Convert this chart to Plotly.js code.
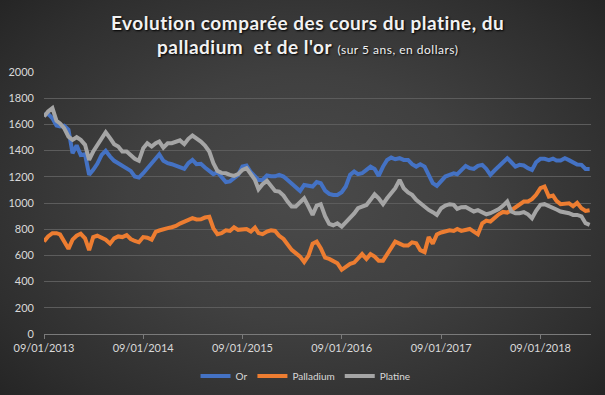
<!DOCTYPE html>
<html>
<head>
<meta charset="utf-8">
<script src="https://cdn.plot.ly/plotly-3.0.1.min.js"></script>
<style>
  html, body { margin: 0; padding: 0; }
  #chart {
    width: 605px; height: 395px;
    background: radial-gradient(ellipse 72% 78% at 50% 50%, #4a4a4a 0%, #404040 40%, #2e2e2e 78%, #222222 100%);
  }
  .annotation-text { letter-spacing: 0.5px; }
</style>
</head>
<body>
<div id="chart"></div>
<script>
// Dates (semi-monthly samples)
const dates = [
"2013-01-09","2013-01-24","2013-02-09","2013-02-24","2013-03-09","2013-03-24","2013-04-09","2013-04-24","2013-05-09","2013-05-24","2013-06-09","2013-06-24",
"2013-07-09","2013-07-24","2013-08-09","2013-08-24","2013-09-09","2013-09-24","2013-10-09","2013-10-24","2013-11-09","2013-11-24","2013-12-09","2013-12-24",
"2014-01-09","2014-01-24","2014-02-09","2014-02-24","2014-03-09","2014-03-24","2014-04-09","2014-04-24","2014-05-09","2014-05-24","2014-06-09","2014-06-24",
"2014-07-09","2014-07-24","2014-08-09","2014-08-24","2014-09-09","2014-09-24","2014-10-09","2014-10-24","2014-11-09","2014-11-24","2014-12-09","2014-12-24",
"2015-01-09","2015-01-24","2015-02-09","2015-02-24","2015-03-09","2015-03-24","2015-04-09","2015-04-24","2015-05-09","2015-05-24","2015-06-09","2015-06-24",
"2015-07-09","2015-07-24","2015-08-09","2015-08-24","2015-09-09","2015-09-24","2015-10-09","2015-10-24","2015-11-09","2015-11-24","2015-12-09","2015-12-24",
"2016-01-09","2016-01-24","2016-02-09","2016-02-24","2016-03-09","2016-03-24","2016-04-09","2016-04-24","2016-05-09","2016-05-24","2016-06-09","2016-06-24",
"2016-07-09","2016-07-24","2016-08-09","2016-08-24","2016-09-09","2016-09-24","2016-10-09","2016-10-24","2016-11-09","2016-11-24","2016-12-09","2016-12-24",
"2017-01-09","2017-01-24","2017-02-09","2017-02-24","2017-03-09","2017-03-24","2017-04-09","2017-04-24","2017-05-09","2017-05-24","2017-06-09","2017-06-24",
"2017-07-09","2017-07-24","2017-08-09","2017-08-24","2017-09-09","2017-09-24","2017-10-09","2017-10-24","2017-11-09","2017-11-24","2017-12-09","2017-12-24",
"2018-01-09","2018-01-24","2018-02-09","2018-02-24","2018-03-09","2018-03-24","2018-04-09","2018-04-24","2018-05-09","2018-05-24","2018-06-09","2018-06-24",
"2018-07-09"
];

const orValues = [
1673,1680,1647,1591,1584,1591,1560,1380,1440,1367,1372,1215,
1253,1299,1367,1398,1355,1322,1304,1283,1266,1245,1202,1194,
1227,1266,1296,1342,1372,1322,1304,1296,1286,1272,1260,1304,
1329,1296,1299,1271,1245,1220,1235,1200,1160,1165,1189,1215,
1278,1286,1235,1202,1176,1176,1210,1204,1204,1215,1202,1176,
1151,1120,1092,1138,1131,1126,1160,1151,1095,1070,1062,1062,
1082,1126,1215,1240,1220,1227,1253,1278,1260,1207,1278,1329,
1347,1334,1342,1329,1329,1296,1278,1296,1278,1215,1151,1131,
1169,1202,1215,1227,1220,1250,1283,1266,1260,1283,1291,1260,
1215,1248,1283,1316,1342,1311,1278,1291,1286,1266,1253,1311,
1337,1337,1327,1339,1324,1324,1342,1327,1306,1294,1291,1260,
1260
];

const palladiumValues = [
706,745,770,770,760,700,650,720,750,765,730,640,
740,750,735,720,690,730,745,740,755,725,710,700,
740,735,720,780,790,795,808,815,825,843,858,868,
884,874,876,889,895,807,762,770,792,787,815,795,
795,802,782,812,770,762,782,792,787,750,725,680,
642,617,591,550,599,690,705,655,583,573,560,540,
490,515,535,545,578,610,573,610,591,560,560,604,
655,705,690,675,675,700,693,640,625,740,690,760,
775,787,792,787,802,787,792,802,782,762,845,866,
858,889,914,932,927,945,965,986,1011,1011,1029,1062,
1113,1126,1049,1057,1016,991,991,998,975,1001,960,940,
945
];

const platineValues = [
1660,1698,1724,1627,1607,1571,1507,1482,1502,1482,1444,1329,
1393,1439,1500,1540,1495,1449,1431,1393,1393,1367,1337,1322,
1418,1456,1431,1456,1469,1423,1456,1456,1469,1478,1449,1490,
1515,1495,1469,1439,1393,1304,1245,1230,1227,1215,1207,1220,
1253,1266,1215,1176,1105,1143,1169,1126,1092,1087,1057,1011,
973,973,1011,1036,973,909,980,991,900,840,830,845,
820,850,890,920,960,973,985,1024,1067,1036,991,1036,
1075,1113,1176,1113,1080,1062,1024,998,978,947,930,909,
960,980,991,986,955,968,970,955,935,945,927,914,
922,935,953,978,1011,935,922,922,930,914,884,940,
986,991,973,960,950,935,930,922,909,909,897,846,
833
];

const seriesNames = ["Or", "Palladium", "Platine"];
const seriesColors = ["#4472c4", "#ed7d31", "#a5a5a5"];
const seriesData = [orValues, palladiumValues, platineValues];

const tickDates = ["2013-01-09","2014-01-09","2015-01-09","2016-01-09","2017-01-09","2018-01-09"];
const tickLabels = ["09/01/2013","09/01/2014","09/01/2015","09/01/2016","09/01/2017","09/01/2018"];

const titleLine1 = "<b>Evolution comparée des cours du platine, du</b>";
const titleLine2 = "<b>palladium  et de l'or</b> <span style='font-size:12px'>(sur 5 ans, en dollars)</span>";

const traces = seriesNames.map((name, i) => ({
  type: "scatter",
  mode: "lines",
  name: name,
  x: dates,
  y: seriesData[i],
  line: { color: seriesColors[i], width: 4 },
  hoverinfo: "skip"
}));

const titleFont = { family: "Lato, 'Open Sans', sans-serif", size: 19, color: "#f2f2f2", shadow: "1px 1px 2px #000000" };

const layout = {
  width: 605,
  height: 395,
  paper_bgcolor: "rgba(0,0,0,0)",
  plot_bgcolor: "rgba(0,0,0,0)",
  margin: { l: 44, r: 14, t: 72, b: 61, pad: 0 },
  font: { family: "Lato, 'Open Sans', sans-serif", color: "#d9d9d9", size: 11 },
  annotations: [
    { text: titleLine1, xref: "paper", yref: "paper", x: 0.481, y: (334 - 22) / 262,
      xanchor: "center", yanchor: "middle", showarrow: false, font: titleFont },
    { text: titleLine2, xref: "paper", yref: "paper", x: 0.481, y: (334 - 47) / 262,
      xanchor: "center", yanchor: "middle", showarrow: false, font: titleFont }
  ],
  xaxis: {
    type: "date",
    range: ["2013-01-09", "2018-07-14"],
    tickvals: tickDates,
    ticktext: tickLabels,
    showgrid: false,
    zeroline: false,
    showline: true,
    linecolor: "#7a7a7a",
    linewidth: 1,
    ticks: "outside",
    ticklen: 4,
    tickcolor: "#7a7a7a",
    tickfont: { size: 11, color: "#d9d9d9" },
    fixedrange: true
  },
  yaxis: {
    range: [0, 2000],
    tickvals: [0, 200, 400, 600, 800, 1000, 1200, 1400, 1600, 1800, 2000],
    showgrid: true,
    gridcolor: "#5c5c5c",
    gridwidth: 1,
    zeroline: false,
    showline: false,
    ticks: "",
    ticklabelstandoff: 9,
    tickfont: { size: 11, color: "#d9d9d9" },
    fixedrange: true
  },
  showlegend: true,
  legend: {
    orientation: "h",
    x: 0.505, xanchor: "center",
    xref: "container",
    y: (395 - 376) / 395, yanchor: "middle",
    yref: "container",
    font: { size: 10, color: "#d9d9d9" },
    bgcolor: "rgba(0,0,0,0)",
    itemwidth: 30,
    traceorder: "normal"
  }
};

Plotly.newPlot("chart", traces, layout, { displayModeBar: false, staticPlot: true });
</script>
</body>
</html>
